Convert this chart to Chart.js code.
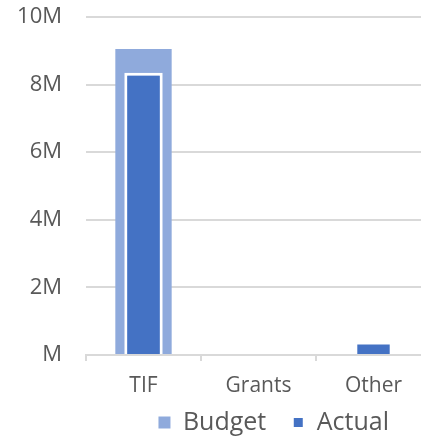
<!DOCTYPE html>
<html>
<head>
<meta charset="utf-8">
<script src="https://cdn.jsdelivr.net/npm/chart.js@4/dist/chart.umd.min.js"></script>
<style>
  html, body { margin: 0; padding: 0; background: #ffffff; overflow: hidden; }
  #wrap { width: 421px; height: 439px; overflow: hidden; }
</style>
</head>
<body>
<div id="wrap"><canvas id="c" width="431" height="439"></canvas></div>
<script>
// Funding sources: budgeted vs. actual amounts
const categories = ['TIF', 'Grants', 'Other'];
const budget = [9050000, 0, 0];
const actual = [8350000, 0, 400000];
const yTicks = [0, 2000000, 4000000, 6000000, 8000000, 10000000];

const FONT = "'Open Sans', 'Noto Sans', sans-serif";
const GREY = '#595959';
const LINE = '#d9d9d9';

// Pull the legend row in from the right edge of the canvas
const legendInset = {
  id: 'legendInset',
  afterLayout(chart) {
    if (chart.legend) chart.legend.right -= 16;
  }
};

new Chart(document.getElementById('c'), {
  type: 'bar',
  data: {
    labels: categories,
    datasets: [
      {
        label: 'Budget',
        data: budget,
        backgroundColor: '#8faadc',
        borderWidth: 0,
        categoryPercentage: 1,
        barPercentage: 0.49,
        order: 2
      },
      {
        label: 'Actual',
        data: actual,
        backgroundColor: '#4472c4',
        borderColor: '#ffffff',
        borderWidth: 3,
        borderSkipped: 'start',
        categoryPercentage: 1,
        barPercentage: 0.334,
        order: 1
      }
    ]
  },
  plugins: [legendInset],
  options: {
    responsive: false,
    animation: false,
    layout: { padding: { top: 17, right: 0, left: 0, bottom: -6 } },
    plugins: {
      tooltip: { enabled: false },
      legend: {
        position: 'bottom',
        align: 'end',
        labels: {
          boxWidth: 12,
          boxHeight: 12,
          padding: 26,
          color: GREY,
          font: { family: FONT, size: 25 },
          sort: (a, b) => a.datasetIndex - b.datasetIndex
        }
      }
    },
    scales: {
      x: {
        stacked: true,
        afterFit: (s) => {
          // keep the axis low; let its labels hang into the legend band unclipped
          s.height = 29;
          s._computeLabelArea = () => undefined;
        },
        grid: {
          drawOnChartArea: false,
          drawTicks: true,
          tickLength: 6,
          color: LINE,
          lineWidth: 2
        },
        border: { display: true, color: LINE, width: 2 },
        ticks: {
          color: GREY,
          padding: 12,
          font: { family: FONT, size: 21 }
        }
      },
      y: {
        stacked: false,
        min: 0,
        max: 10000000,
        afterBuildTicks: (axis) => { axis.ticks = yTicks.map(v => ({ value: v })); },
        afterFit: (s) => { s.width = 86; },
        grid: {
          color: LINE,
          lineWidth: 2,
          drawTicks: true,
          tickLength: 24,
          tickColor: 'rgba(0,0,0,0)'
        },
        border: { display: false },
        ticks: {
          color: GREY,
          padding: 0,
          font: { family: FONT, size: 22 },
          callback: (v) => v === 0 ? 'M' : (v / 1000000) + 'M'
        }
      }
    }
  }
});
</script>
</body>
</html>
